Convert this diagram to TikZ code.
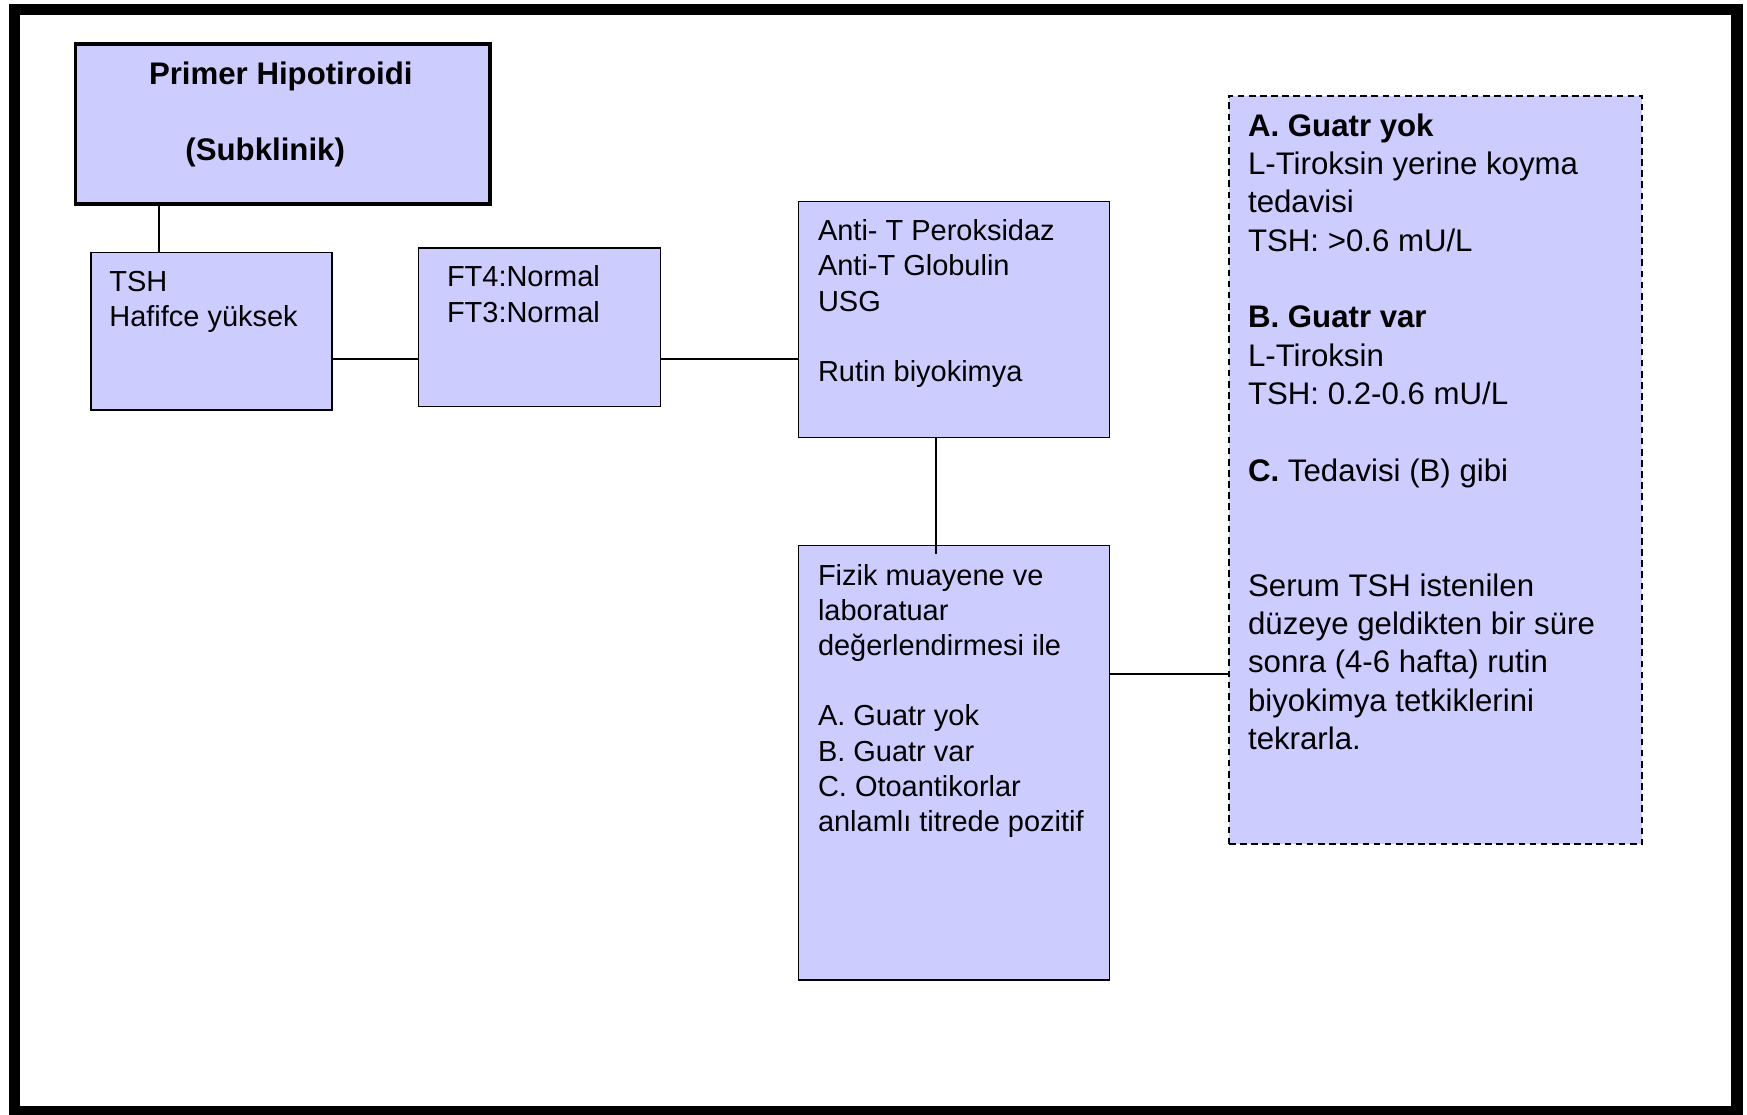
\documentclass[tikz,border=0pt]{standalone}
\usepackage{fontspec}
\setmainfont{Liberation Sans}
\definecolor{boxfill}{HTML}{CCCCFF}
\newcommand\fst{\rule{0pt}{22pt}}
\begin{document}
\begin{tikzpicture}[x=1pt,y=-1pt,
  box/.style={draw=black, fill=boxfill, line width=1.5pt, anchor=north west, inner sep=0pt},
  txt/.style={anchor=north west, inner sep=0pt, align=left, font=\fontsize{26}{31.6}\selectfont},
  conn/.style={draw=black, line width=1.5pt}]
\useasboundingbox (0,0) rectangle (1568,1000);
\fill[white] (0,0) rectangle (1568,1000);
\draw[line width=10.5pt] (13,8.5) rectangle (1559,998);

% boxes
\node[box, line width=3.5pt, minimum width=372pt, minimum height=143pt] (primer) at (66,38) {};
\node[box, minimum width=216pt, minimum height=141pt] (tsh) at (81,226) {};
\node[box, minimum width=217pt, minimum height=142pt] (ft4) at (375,222) {};
\node[box, minimum width=279pt, minimum height=212pt] (anti) at (716,180) {};
\node[box, minimum width=279pt, minimum height=390pt] (fizik) at (716,489) {};
\node[box, line width=1.8pt, dash pattern=on 6pt off 4pt, minimum width=371pt, minimum height=672pt] (plan) at (1102,85) {};

% texts
\node[anchor=base, inner sep=0pt, font=\fontsize{28}{34}\selectfont\bfseries] (primerA) at (252,76) {Primer Hipotiroidi};
\node[anchor=base, inner sep=0pt, font=\fontsize{28}{34}\selectfont\bfseries] (primerB) at (238,144) {(Subklinik)};

\node[txt, font=\fontsize{26}{32}\selectfont] (tshT) at (98,239) {\fst TSH\\Hafifce yüksek};
\node[txt, font=\fontsize{26}{32}\selectfont] (ft4T) at (401,235) {\fst FT4:Normal\\FT3:Normal};
\node[txt, font=\fontsize{26}{31.5}\selectfont] (antiT) at (734,194) {\fst Anti- T Peroksidaz\\Anti-T Globulin\\USG\\[31.5pt]Rutin biyokimya};
\node[txt] (fizikT) at (734,503) {\fst Fizik muayene ve\\laboratuar\\değerlendirmesi ile\\[31.6pt]A. Guatr yok\\B. Guatr var\\C. Otoantikorlar\\anlamlı titrede pozitif};
\node[txt, font=\fontsize{28}{34.4}\selectfont] (planT) at (1120,100) {\fst\textbf{A. Guatr yok}\\L-Tiroksin yerine koyma\\tedavisi\\TSH: >0.6 mU/L\\[34.4pt]\textbf{B. Guatr var}\\L-Tiroksin\\TSH: 0.2-0.6 mU/L\\[34.4pt]\textbf{C.} Tedavisi (B) gibi\\[68.8pt]Serum TSH istenilen\\düzeye geldikten bir süre\\sonra (4-6 hafta) rutin\\biyokimya tetkiklerini\\tekrarla.};

% connectors
\coordinate (h1) at (0,322);
\coordinate (h2) at (0,605);
\coordinate (v1) at (840,0);
\coordinate (v0) at (143,0);
\draw[conn] (primer.south -| v0) -- (tsh.north -| v0);
\draw[conn] (tsh.east |- h1) -- (ft4.west |- h1);
\draw[conn] (ft4.east |- h1) -- (anti.west |- h1);
\draw[conn] (anti.south -| v1) -- ([yshift=-8pt]fizik.north -| v1);
\draw[conn] (fizik.east |- h2) -- (plan.west |- h2);
\end{tikzpicture}
\end{document}
